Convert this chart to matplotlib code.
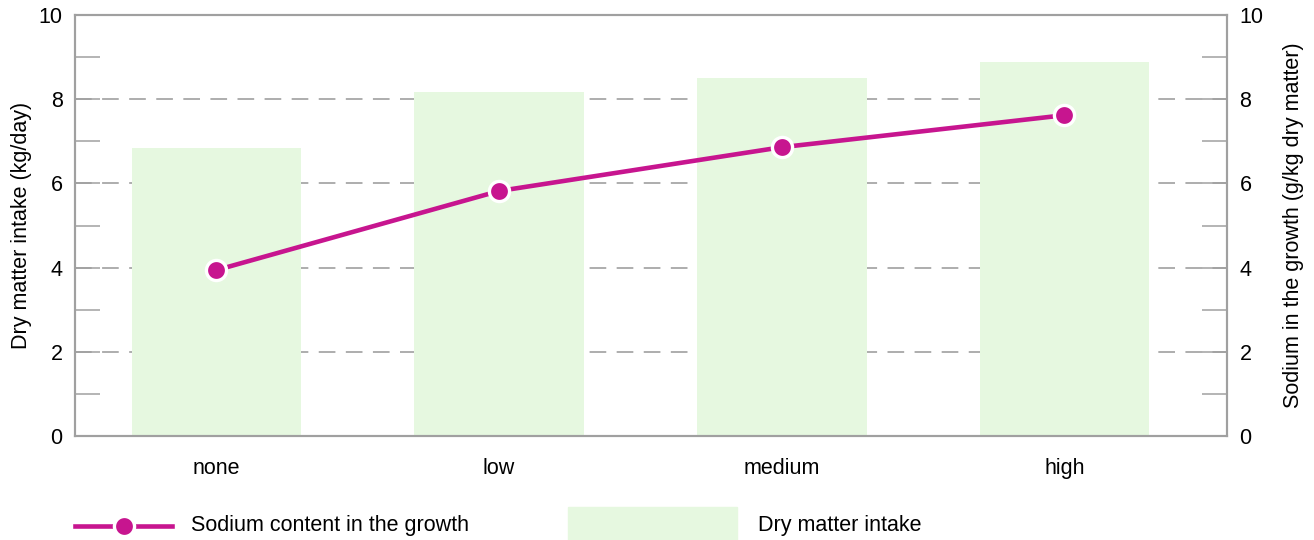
import matplotlib.pyplot as plt
from matplotlib.lines import Line2D
from matplotlib.patches import Rectangle
import numpy as np

plt.rcParams['font.family'] = ['Liberation Sans', 'DejaVu Sans']
plt.rcParams['lines.scale_dashes'] = False

categories = ['none', 'low', 'medium', 'high']
dry_matter = [6.84, 8.17, 8.5, 8.88]
sodium = [3.94, 5.82, 6.86, 7.62]
yticks = [0, 2, 4, 6, 8, 10]
minor_ticks = [1, 3, 5, 7, 9]

magenta = '#c7158f'
green = '#e6f8e0'
grey = '#a0a0a0'
fs = 15.5

fig = plt.figure(figsize=(13.14, 5.4), dpi=100)
ax = fig.add_axes([0.0571, 0.1926, 0.8767, 0.7796])
ax2 = ax.twinx()

x = np.arange(len(categories))
ax.bar(x, dry_matter, width=0.6, color=green, zorder=2)
for v in yticks[1:-1]:
    ax.axhline(v, color=grey, lw=1.2, linestyle=(0, (12, 7.5)), zorder=1)

ax2.plot(x, sodium, color=magenta, lw=3.3, marker='o', markersize=14.5,
         markeredgecolor='white', markeredgewidth=2.4, zorder=3)

for a in (ax, ax2):
    a.set_xlim(-0.5, 3.575)
    a.set_ylim(0, 10)
    a.set_yticks(yticks)
    a.set_yticks(minor_ticks, minor=True)
    a.tick_params(axis='y', which='both', direction='in', length=18,
                  width=1.1, color=grey, labelsize=fs, pad=9)
    for s in a.spines.values():
        s.set_color(grey)
        s.set_linewidth(1.5)

ax.set_xticks(x)
ax.set_xticklabels(categories)
ax.tick_params(axis='x', length=0, labelsize=fs, pad=16)

ax.set_ylabel('Dry matter intake (kg/day)', fontsize=fs, labelpad=5)
ax2.set_ylabel('Sodium in the growth (g/kg dry matter)', fontsize=fs, labelpad=14)

# legend drawn by hand below the plot
fig.add_artist(Line2D([75 / 1314, 172 / 1314], [14 / 540, 14 / 540], color=magenta, lw=3.3,
                      transform=fig.transFigure))
fig.add_artist(Line2D([124 / 1314], [14 / 540], color=magenta, marker='o', markersize=14.5,
                      markeredgecolor='white', markeredgewidth=2.4, transform=fig.transFigure))
fig.text(191 / 1314, 14 / 540, 'Sodium content in the growth', fontsize=fs, va='center')
fig.add_artist(Rectangle((568 / 1314, 0), 169 / 1314, 33 / 540, color=green,
                         transform=fig.transFigure))
fig.text(758 / 1314, 14 / 540, 'Dry matter intake', fontsize=fs, va='center')

fig.savefig('out.png', dpi=100)
